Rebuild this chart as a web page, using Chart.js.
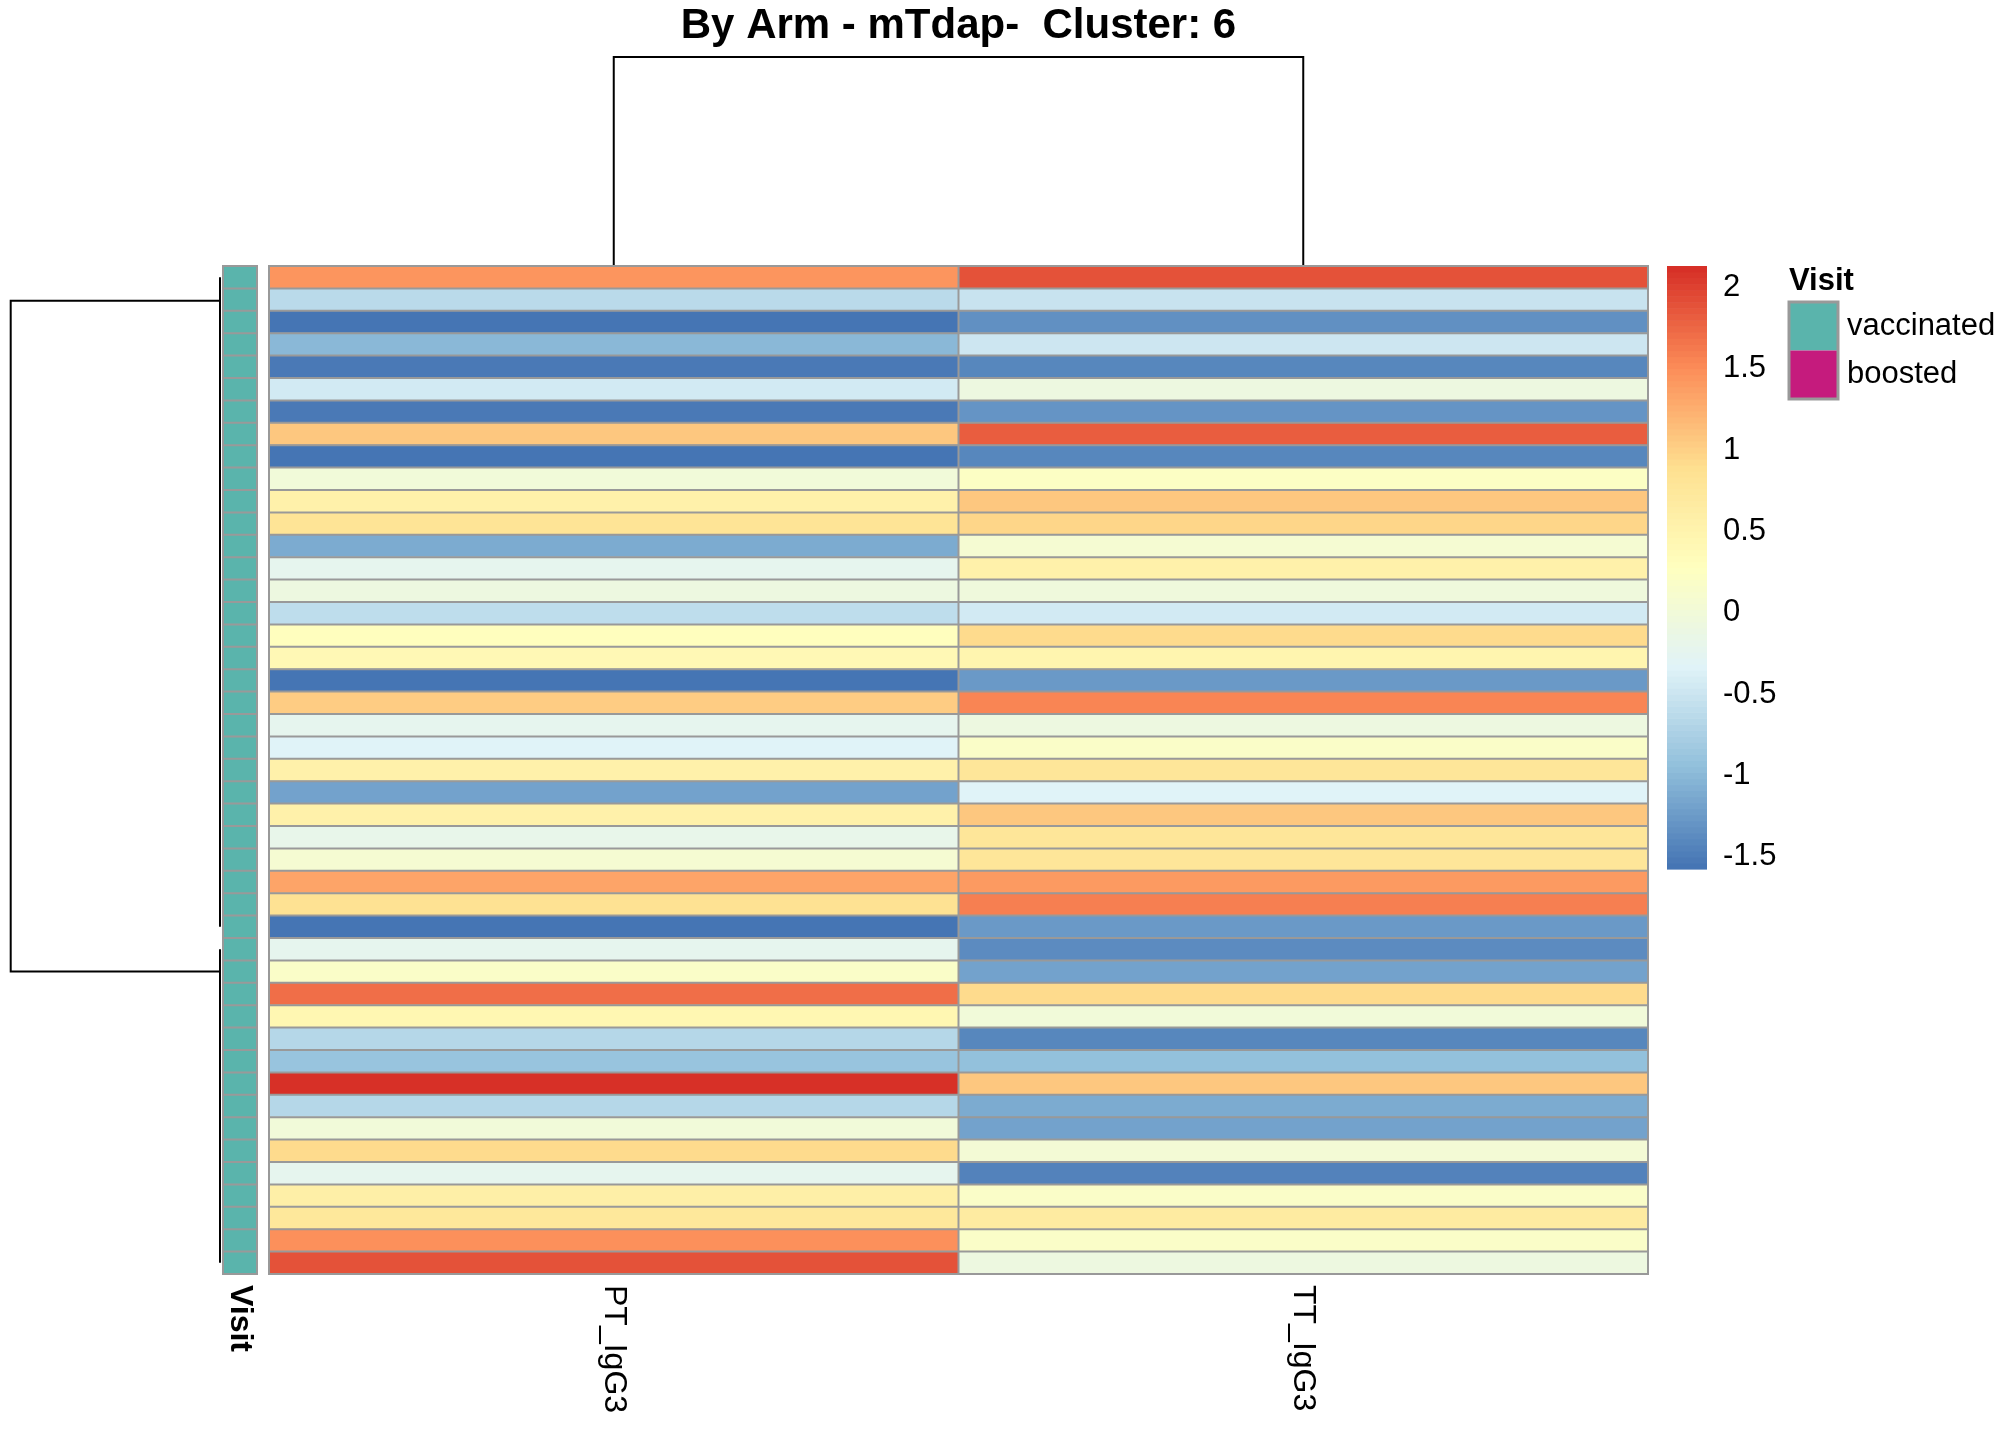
<!DOCTYPE html>
<html>
<head>
<meta charset="utf-8">
<script src="https://cdn.jsdelivr.net/npm/chart.js@4.4.1/dist/chart.umd.min.js"></script>
<style>
  html, body { margin: 0; padding: 0; background: #ffffff; }
  #c { display: block; }
</style>
</head>
<body>
<canvas id="c" width="2016" height="1440" style="width:2016px;height:1440px"></canvas>
<script>
// ---------------- DATA ----------------
const titleText = "By Arm - mTdap-  Cluster: 6";
const columns = ["PT_IgG3", "TT_IgG3"];

// z-scored values per row (top to bottom)
const ptValues = [
  1.45, -0.64, -1.55, -1.01, -1.51, -0.45, -1.51, 1.06, -1.55, 0.00,
  0.57, 0.83, -1.12, -0.21, -0.07, -0.60, 0.28, 0.39, -1.58, 1.03,
  -0.24, -0.33, 0.54, -1.20, 0.54, -0.19, 0.09, 1.35, 0.86, -1.54,
  -0.21, 0.17, 1.72, 0.45, -0.67, -0.90, 2.13, -0.66, 0.00, 0.94,
  -0.21, 0.61, 0.73, 1.49, 1.90
];
const ttValues = [
  1.90, -0.52, -1.33, -0.47, -1.40, -0.06, -1.31, 1.83, -1.40, 0.22,
  1.09, 0.95, 0.09, 0.57, -0.05, -0.43, 0.94, 0.47, -1.25, 1.57,
  -0.08, 0.20, 0.77, -0.34, 1.07, 0.77, 0.78, 1.41, 1.58, -1.25,
  -1.36, -1.20, 0.91, 0.00, -1.40, -0.93, 1.09, -1.12, -1.20, 0.05,
  -1.43, 0.20, 0.67, 0.18, -0.06
];
const visitGroup = [
  "vaccinated","vaccinated","vaccinated","vaccinated","vaccinated","vaccinated","vaccinated","vaccinated","vaccinated","vaccinated",
  "vaccinated","vaccinated","vaccinated","vaccinated","vaccinated","vaccinated","vaccinated","vaccinated","vaccinated","vaccinated",
  "vaccinated","vaccinated","vaccinated","vaccinated","vaccinated","vaccinated","vaccinated","vaccinated","vaccinated","vaccinated",
  "vaccinated","vaccinated","vaccinated","vaccinated","vaccinated","vaccinated","vaccinated","vaccinated","vaccinated","vaccinated",
  "vaccinated","vaccinated","vaccinated","vaccinated","vaccinated"
];
const visitLevels = ["vaccinated", "boosted"];
const colorbarTicks = [2, 1.5, 1, 0.5, 0, -0.5, -1, -1.5];
const colorbarTickLabels = ["2", "1.5", "1", "0.5", "0", "-0.5", "-1", "-1.5"];
// row dendrogram: two top-level clusters (first/last row index) and node positions (row units)
const rowClusters = [[0, 29], [30, 44]];
const rowClusterNodePos = [1.05, 31.0];

// ---------------- STYLE ----------------
const FONT = '"Liberation Sans", Arial, Helvetica, sans-serif';
const visitColors = { vaccinated: "#5AB4AC", boosted: "#C51B7D" };
const palette7 = ["#4575B4", "#91BFDB", "#E0F3F8", "#FFFFBF", "#FEE090", "#FC8D59", "#D73027"];
const scaleMin = -1.576, scaleMax = 2.132;
const borderGrey = "#999999";

function hexToRgb(h) { return [parseInt(h.slice(1,3),16), parseInt(h.slice(3,5),16), parseInt(h.slice(5,7),16)]; }
function rampPalette(stops, n) {
  const rgb = stops.map(hexToRgb), out = [];
  for (let i = 0; i < n; i++) {
    const t = i / (n - 1) * (stops.length - 1);
    const k = Math.min(Math.floor(t), stops.length - 2), f = t - k;
    const c = [0,1,2].map(j => Math.round(rgb[k][j] + (rgb[k+1][j] - rgb[k][j]) * f));
    out.push(`rgb(${c[0]},${c[1]},${c[2]})`);
  }
  return out;
}
const palette100 = rampPalette(palette7, 100);
function colorFor(v) {
  let idx = Math.floor((v - scaleMin) / (scaleMax - scaleMin) * 100);
  idx = Math.max(0, Math.min(99, idx));
  return palette100[idx];
}

const rowLabels = ptValues.map((_, i) => "row" + (i + 1));
const annoX = [-0.0667, -0.0174]; // annotation column extent in x-scale units

// ---------------- DECORATIONS PLUGIN ----------------
const decor = {
  id: "decor",
  afterDatasetsDraw(chart) {
    const ctx = chart.ctx, xs = chart.scales.x, ys = chart.scales.y;
    const ca = chart.chartArea;
    const ax0 = xs.getPixelForValue(annoX[0]), ax1 = xs.getPixelForValue(annoX[1]);
    ctx.save();

    // cell borders (grey60) for heatmap and annotation column
    ctx.strokeStyle = borderGrey; ctx.lineWidth = 2;
    ctx.beginPath();
    for (let i = 0; i <= rowLabels.length; i++) {
      const y = ys.getPixelForValue(i - 0.5);
      ctx.moveTo(ca.left, y); ctx.lineTo(ca.right, y);
      ctx.moveTo(ax0, y); ctx.lineTo(ax1, y);
    }
    [0, 1, 2].forEach(v => {
      const x = xs.getPixelForValue(v);
      ctx.moveTo(x, ca.top - 1); ctx.lineTo(x, ca.bottom + 1);
    });
    [ax0, ax1].forEach(x => { ctx.moveTo(x, ca.top - 1); ctx.lineTo(x, ca.bottom + 1); });
    ctx.stroke();

    // title
    ctx.fillStyle = "#000";
    ctx.font = `bold 42px ${FONT}`;
    ctx.textAlign = "center"; ctx.textBaseline = "alphabetic";
    ctx.fillText(titleText, (ca.left + ca.right) / 2, 38);

    // column dendrogram
    ctx.strokeStyle = "#000"; ctx.lineWidth = 2;
    const c0 = xs.getPixelForValue(0.5), c1 = xs.getPixelForValue(1.5);
    const topY = 57;
    ctx.beginPath();
    ctx.moveTo(c0, ca.top - 1); ctx.lineTo(c0, topY); ctx.lineTo(c1, topY); ctx.lineTo(c1, ca.top - 1);
    ctx.stroke();

    // row dendrogram
    const rootX = 10.7, childX = 220;
    const yA = ys.getPixelForValue(rowClusterNodePos[0]);
    const yB = ys.getPixelForValue(rowClusterNodePos[1]);
    ctx.beginPath();
    ctx.moveTo(childX, yA); ctx.lineTo(rootX, yA); ctx.lineTo(rootX, yB); ctx.lineTo(childX, yB);
    ctx.stroke();
    rowClusters.forEach(([a, b]) => {
      ctx.beginPath();
      ctx.moveTo(childX, ys.getPixelForValue(a));
      ctx.lineTo(childX, ys.getPixelForValue(b));
      ctx.stroke();
    });

    // column labels (rotated)
    ctx.fillStyle = "#000";
    ctx.textAlign = "left"; ctx.textBaseline = "middle";
    const labY = ca.bottom + 11;
    ctx.font = `32px ${FONT}`;
    columns.forEach((name, i) => {
      ctx.save();
      ctx.translate(xs.getPixelForValue(i + 0.5), labY);
      ctx.rotate(Math.PI / 2);
      ctx.fillText(name, 0, 0);
      ctx.restore();
    });
    ctx.save();
    ctx.font = `bold 32px ${FONT}`;
    ctx.translate((ax0 + ax1) / 2, labY);
    ctx.rotate(Math.PI / 2);
    ctx.fillText("Visit", 0, 0);
    ctx.restore();

    // colour bar
    const cbX = 1667, cbW = 40, cbTop = ca.top, cbBot = 869;
    const cbY = v => cbTop + (scaleMax - v) / (scaleMax - scaleMin) * (cbBot - cbTop);
    const sliceH = (cbBot - cbTop) / palette100.length;
    for (let i = 0; i < palette100.length; i++) {
      ctx.fillStyle = palette100[i];
      ctx.fillRect(cbX, cbBot - (i + 1) * sliceH, cbW, sliceH + 0.6);
    }
    ctx.fillStyle = "#000";
    ctx.font = `31px ${FONT}`;
    ctx.textAlign = "left"; ctx.textBaseline = "middle";
    colorbarTicks.forEach((v, i) => ctx.fillText(colorbarTickLabels[i], 1723, cbY(v)));

    // Visit legend
    const lx = 1789, boxW = 49, boxH = 48.5, ly = 302;
    ctx.font = `bold 31px ${FONT}`;
    ctx.fillText("Visit", lx, 281);
    visitLevels.forEach((lev, i) => {
      ctx.fillStyle = visitColors[lev];
      ctx.fillRect(lx, ly + i * boxH, boxW, boxH);
    });
    ctx.strokeStyle = borderGrey; ctx.lineWidth = 3;
    ctx.strokeRect(lx, ly, boxW, boxH * visitLevels.length);
    ctx.fillStyle = "#000";
    ctx.font = `31px ${FONT}`;
    visitLevels.forEach((lev, i) => ctx.fillText(lev, lx + 58, ly + (i + 0.5) * boxH));
    ctx.restore();
  }
};

// ---------------- CHART ----------------
new Chart(document.getElementById("c"), {
  type: "bar",
  data: {
    labels: rowLabels,
    datasets: [
      {
        label: "Visit",
        data: visitGroup.map(() => annoX.slice()),
        backgroundColor: visitGroup.map(v => visitColors[v]),
        clip: false
      },
      {
        label: columns[0],
        data: ptValues.map(() => [0, 1]),
        backgroundColor: ptValues.map(colorFor)
      },
      {
        label: columns[1],
        data: ttValues.map(() => [1, 2]),
        backgroundColor: ttValues.map(colorFor)
      }
    ]
  },
  options: {
    indexAxis: "y",
    responsive: false,
    animation: false,
    devicePixelRatio: 1,
    layout: { padding: { left: 269, right: 368, top: 266, bottom: 166 } },
    datasets: {
      bar: {
        grouped: false,
        categoryPercentage: 1,
        barPercentage: 1,
        borderWidth: 0,
        borderSkipped: false
      }
    },
    scales: {
      x: { type: "linear", min: 0, max: 2, display: false },
      y: { type: "category", display: false, offset: true }
    },
    plugins: {
      legend: { display: false },
      tooltip: { enabled: false },
      title: { display: false }
    }
  },
  plugins: [decor]
});
</script>
</body>
</html>
